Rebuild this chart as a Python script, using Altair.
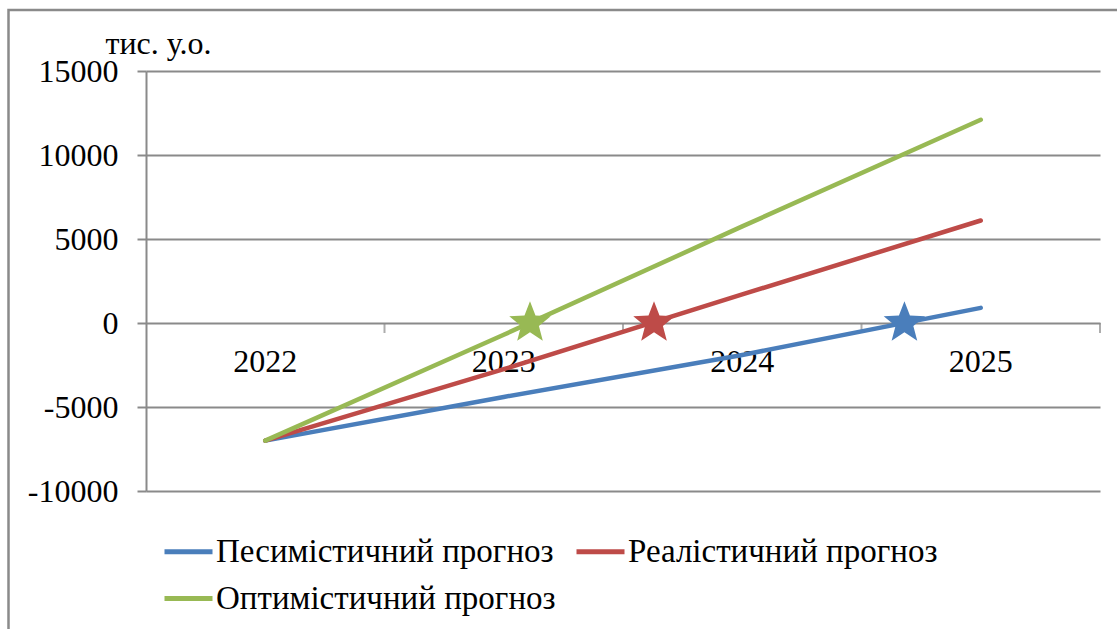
import math
import altair as alt
import pandas as pd

# ---- data ----
years = [2022, 2023, 2024, 2025]
series_names = ["Песимістичний прогноз", "Реалістичний прогноз", "Оптимістичний прогноз"]
pessimistic = [-7000, -4400, -1900, 900]
realistic = [-7000, -2750, 1700, 6100]
optimistic = [-7000, -700, 5750, 12100]
payback_years = [2024.68, 2023.63, 2023.11]   # star markers (zero crossings)
colors = ["#4A7EBB", "#BE4B48", "#98B954"]
y_ticks = [-10000, -5000, 0, 5000, 10000, 15000]
y_title = "тис. у.о."

FONT = "Liberation Serif"
GRAY = "#8a8a8a"

rows = []
for name, vals in zip(series_names, [pessimistic, realistic, optimistic]):
    for yr, v in zip(years, vals):
        rows.append({"year": yr, "value": v, "series": name})
df = pd.DataFrame(rows)

stars = pd.DataFrame({"year": payback_years, "value": [0, 0, 0], "series": series_names})
labels = pd.DataFrame({"year": years, "value": [0] * len(years), "label": [str(y) for y in years]})
bounds = pd.DataFrame({"year": [y + 0.5 for y in years], "value": [0] * len(years)})

# five-pointed star path (unit radius)
pts = []
for k in range(10):
    ang = -math.pi / 2 + k * math.pi / 5
    r = 1.0 if k % 2 == 0 else 0.43
    pts.append(f"{r * math.cos(ang):.4f},{r * math.sin(ang):.4f}")
star_path = "M" + "L".join(pts) + "Z"

x_enc = alt.X("year:Q", scale=alt.Scale(domain=[2021.5, 2025.5], nice=False, zero=False), axis=None)
y_enc = alt.Y(
    "value:Q",
    scale=alt.Scale(domain=[-10000, 15000], nice=False, zero=False),
    axis=alt.Axis(
        values=y_ticks,
        labelExpr="datum.value + ''",
        labelFont=FONT, labelFontSize=32, labelColor="black", labelPadding=19,
        tickSize=9, tickColor=GRAY, tickWidth=2,
        domainColor=GRAY, domainWidth=2,
        grid=True, gridColor=GRAY, gridWidth=2,
        title=y_title, titleAngle=0, titleAlign="left", titleBaseline="alphabetic",
        titleX=-41, titleY=-18, titleFont=FONT, titleFontSize=32,
        titleFontWeight="normal", titleColor="black",
    ),
)
color_enc = alt.Color(
    "series:N",
    scale=alt.Scale(domain=series_names, range=colors),
    sort=series_names,
    legend=alt.Legend(
        orient="none", legendX=16, legendY=454, columns=2, direction="horizontal",
        symbolType="stroke", symbolSize=2304, symbolStrokeWidth=5,
        labelFont=FONT, labelFontSize=33, labelColor="black", labelOffset=1,
        columnPadding=10, rowPadding=3, title=None, labelLimit=0, padding=0,
    ),
)

frame = alt.Chart(pd.DataFrame({"a": [0]})).mark_rect(
    fill=None, stroke=GRAY, strokeWidth=2.5
).encode(
    x=alt.value(-137.5), x2=alt.value(1000), y=alt.value(-61), y2=alt.value(650)
)

ticks = alt.Chart(bounds).mark_tick(
    orient="vertical", size=10, thickness=2, color=GRAY, yOffset=5
).encode(x=x_enc, y=y_enc)

xlabels = alt.Chart(labels).mark_text(
    font=FONT, fontSize=32, color="black", baseline="middle", dy=39
).encode(x=x_enc, y=y_enc, text="label:N")

lines = alt.Chart(df).mark_line(strokeWidth=4.5, strokeCap="round").encode(
    x=x_enc, y=y_enc, color=color_enc, detail="series:N"
)

star_marks = alt.Chart(stars).mark_point(
    shape=star_path, filled=True, size=1900, opacity=1, strokeWidth=0
).encode(
    x=x_enc, y=y_enc,
    color=alt.Color("series:N", scale=alt.Scale(domain=series_names, range=colors), legend=None),
)

chart = alt.layer(frame, ticks, xlabels, lines, star_marks).properties(
    width=954, height=420,
    autosize=alt.AutoSizeParams(type="none"),
    padding={"left": 146, "top": 71, "right": 17, "bottom": 138},
    background="white",
).configure_view(stroke=None)

chart.save("out.html", embed_options={"renderer": "svg", "actions": False})
